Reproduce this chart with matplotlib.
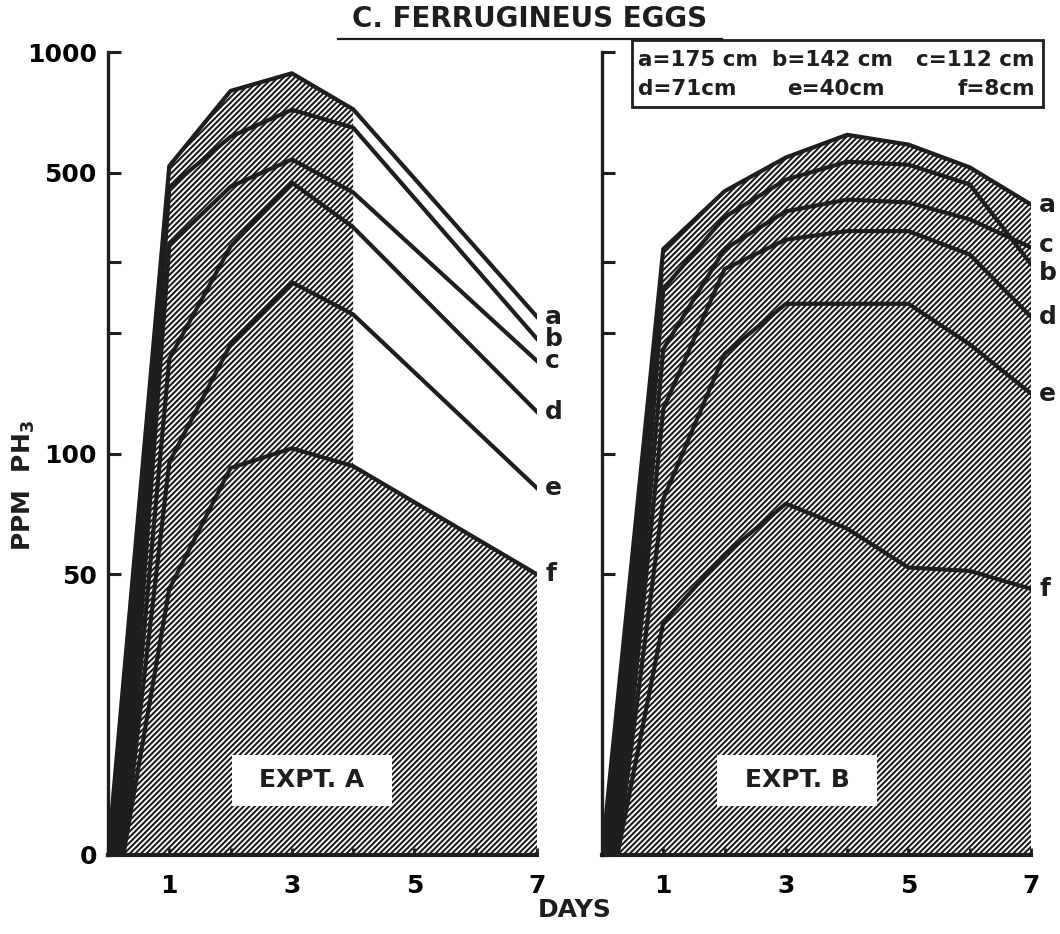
import matplotlib
matplotlib.use("Agg")
import matplotlib.pyplot as plt
from matplotlib.lines import Line2D
from matplotlib.patches import Rectangle
from matplotlib.ticker import FixedLocator, NullFormatter

plt.rcParams['font.family'] = ['DejaVu Sans']
plt.rcParams['font.weight'] = 'bold'
plt.rcParams['mathtext.default'] = 'bf'
plt.rcParams['hatch.linewidth'] = 1.5

INK = '#1e1e1e'
HATCH = '//////'

# days (curve a starts at day 0, the others a bit later -> dark wedge)
days_a_L = [0, 1, 2, 3, 4, 7]
days_L = [0.25, 1, 2, 3, 4, 7]
days_a_R = [0, 1, 2, 3, 4, 5, 6, 7]
days_R = [0.25, 1, 2, 3, 4, 5, 6, 7]

# ppm PH3, expt A (bottom of axis "0" is drawn at 10)
left = {
    'a': [10, 520, 800, 885, 720, 219],
    'b': [10, 460, 615, 718, 648, 193],
    'c': [10, 330, 462, 540, 447, 170],
    'd': [10, 172, 328, 473, 366, 127],
    'e': [10, 95, 187, 267, 222, 82],
    'f': [10, 46, 92, 103, 93, 50],
}

# ppm PH3, expt B
right = {
    'a': [10, 323, 450, 546, 622, 588, 516, 417],
    'b': [10, 257, 388, 481, 533, 524, 468, 296],
    'c': [10, 182, 323, 401, 429, 422, 383, 326],
    'd': [10, 129, 288, 341, 358, 358, 313, 219],
    'e': [10, 77, 177, 236, 236, 236, 187, 141],
    'f': [10, 38, 56, 75, 65, 52, 51, 46],
}

# small vertical nudges (points) for crowded end labels
label_nudge_R = {'b': -6, 'c': 2}

ytick_vals = [10, 50, 100, 500, 1000]
ytick_labels = ['0', '50', '100', '500', '1000']
yminor_vals = [200, 300]
xtick_vals = [1, 2, 3, 4, 5, 6, 7]
xtick_labels = ['1', '', '3', '', '5', '', '7']

W, H = 1060, 934
fig = plt.figure(figsize=(W / 100, H / 100), dpi=100)
axL = fig.add_axes([108 / W, 1 - 855 / H, 429 / W, 803 / H])
axR = fig.add_axes([602 / W, 1 - 855 / H, 429 / W, 803 / H])


def style_axis(ax, show_labels):
    ax.set_yscale('log')
    ax.set_ylim(10, 1000)
    ax.set_xlim(0, 7)
    ax.yaxis.set_major_locator(FixedLocator(ytick_vals))
    ax.yaxis.set_minor_locator(FixedLocator(yminor_vals))
    ax.yaxis.set_minor_formatter(NullFormatter())
    if show_labels:
        ax.set_yticklabels(ytick_labels)
    else:
        ax.set_yticklabels([])
    ax.set_xticks(xtick_vals)
    ax.set_xticklabels(xtick_labels)
    ax.tick_params(axis='y', which='both', direction='in', length=9, width=2.2,
                   labelsize=18, pad=8, color=INK)
    ax.tick_params(axis='x', direction='in', length=5, width=2, labelsize=18,
                   pad=14, color=INK)
    for s in ['top', 'right']:
        ax.spines[s].set_visible(False)
    ax.spines['left'].set_linewidth(2.4)
    ax.spines['bottom'].set_linewidth(3)
    ax.spines['left'].set_color(INK)
    ax.spines['bottom'].set_color(INK)
    ax.patch.set_alpha(0)


def end_label(ax, k, v, nudge=0):
    ax.annotate(k, (7, v[-1]), xytext=(6, nudge), textcoords='offset points',
                fontsize=18, va='center', ha='left', color=INK)


# --- Expt A ---
axL.fill_between(days_a_L[:5], 10, left['a'][:5], facecolor='white',
                 edgecolor=INK, hatch=HATCH, linewidth=0)
axL.fill_between(days_L, 10, left['f'], facecolor='white',
                 edgecolor=INK, hatch=HATCH, linewidth=0)
axL.fill([days_a_L[0], days_a_L[1], days_L[1], days_L[0]],
         [left['a'][0], left['a'][1], left['b'][1], left['b'][0]],
         color=INK, linewidth=0)
for k, v in left.items():
    x = days_a_L if k == 'a' else days_L
    axL.plot(x, v, color=INK, lw=3, solid_joinstyle='round')
    end_label(axL, k, v)

# --- Expt B ---
axR.fill_between(days_a_R, 10, right['a'], facecolor='white',
                 edgecolor=INK, hatch=HATCH, linewidth=0)
axR.fill([days_a_R[0], days_a_R[1], days_R[1], days_R[0]],
         [right['a'][0], right['a'][1], right['b'][1], right['b'][0]],
         color=INK, linewidth=0)
for k, v in right.items():
    x = days_a_R if k == 'a' else days_R
    axR.plot(x, v, color=INK, lw=3, solid_joinstyle='round')
    end_label(axR, k, v, label_nudge_R.get(k, 0))

style_axis(axL, True)
style_axis(axR, False)

# experiment boxes
for ax, txt, x0 in [(axL, 'EXPT. A', (232 - 108) / 429), (axR, 'EXPT. B', (717 - 602) / 429)]:
    ax.add_patch(Rectangle((x0, (855 - 806) / 803), 160 / 429, 51 / 803,
                           transform=ax.transAxes, facecolor='white',
                           edgecolor='none', zorder=5))
    ax.text(x0 + 80 / 429, (855 - 780) / 803, txt, transform=ax.transAxes,
            ha='center', va='center', fontsize=18, color=INK, zorder=6)

# title with underline
fig.text(530 / W, 1 - 19 / H, 'C. FERRUGINEUS EGGS', ha='center', va='center',
         fontsize=20, color=INK)
fig.add_artist(Line2D([338 / W, 722 / W], [1 - 39 / H, 1 - 39 / H], color=INK, lw=1.6))

# axis titles
fig.text(575 / W, 1 - 910 / H, 'DAYS', ha='center', va='center', fontsize=18, color=INK)
fig.text(24 / W, 1 - 485 / H, r'PPM  PH$_3$', rotation=90, ha='center', va='center',
         fontsize=18, color=INK)

# legend box (distances)
fig.add_artist(Rectangle((632 / W, 1 - 107 / H), 411 / W, 67 / H,
                         transform=fig.transFigure, facecolor='white',
                         edgecolor=INK, lw=2))
legend_rows = [
    [('a=175 cm', 638, 'left'), ('b=142 cm', 772, 'left'), ('c=112 cm', 1035, 'right')],
    [('d=71cm', 638, 'left'), ('e=40cm', 787, 'left'), ('f=8cm', 1035, 'right')],
]
for row, y in zip(legend_rows, [60, 89]):
    for txt, x, ha in row:
        fig.text(x / W, 1 - y / H, txt, ha=ha, va='center', fontsize=15.5, color=INK)

fig.savefig('out.png', dpi=100)
